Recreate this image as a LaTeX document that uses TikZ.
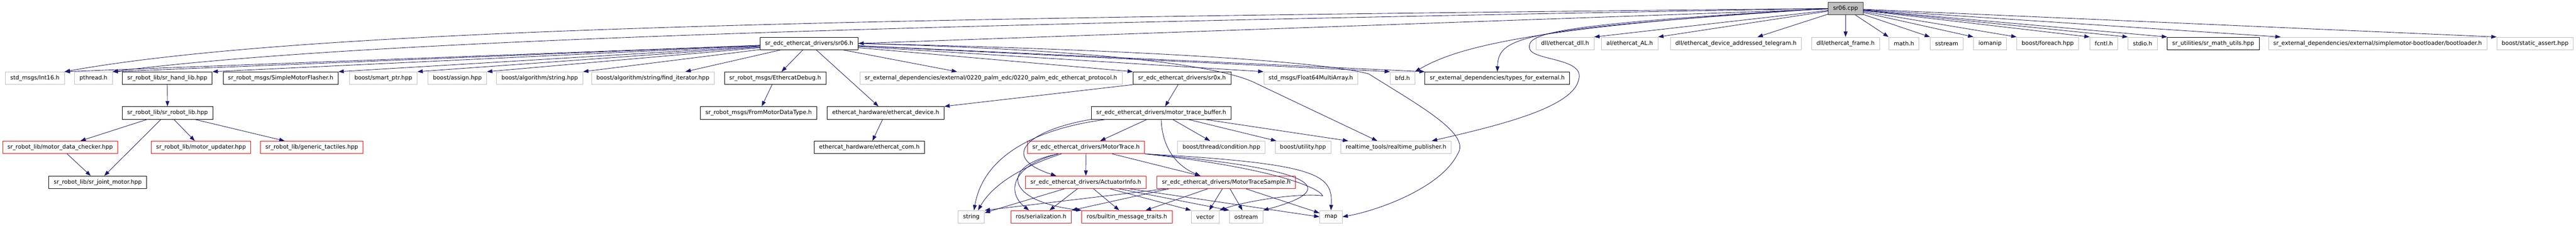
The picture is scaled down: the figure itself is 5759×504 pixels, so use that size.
\documentclass[tikz,border=0pt]{standalone}
\usepackage{fontspec}
\setmainfont{DejaVu Sans}
\usetikzlibrary{arrows.meta}
\definecolor{edgeblue}{HTML}{191970}
\definecolor{greyline}{HTML}{BFBFBF}

\begin{document}
\begin{tikzpicture}[x=1pt,y=-1pt,
  hfile/.style={draw=black,fill=white,line width=1pt,minimum height=28pt,inner xsep=11pt,inner ysep=0pt,font=\fontsize{12.8pt}{15pt}\selectfont},
  sysfile/.style={hfile,draw=greyline},
  redfile/.style={hfile,draw=red},
  rootfile/.style={hfile,fill=greyline,draw=black!80},
  incl/.style={draw=edgeblue,line width=1pt,-{Triangle[length=12pt,width=8.5pt]}}]
\useasboundingbox (0,0) rectangle (5759,504);

\node[rootfile] (cpp) at (4126,19) {sr06.cpp};

\node[hfile] (hdr) at (1809,97) {sr\_edc\_ethercat\_drivers/sr06.h};
\node[sysfile] (dll) at (3499,97) {dll/ethercat\_dll.h};
\node[sysfile] (al) at (3643.5,97) {al/ethercat\_AL.h};
\node[sysfile] (telegram) at (3881,97) {dll/ethercat\_device\_addressed\_telegram.h};
\node[sysfile] (frame) at (4126,97) {dll/ethercat\_frame.h};
\node[sysfile] (math) at (4256.5,97) {math.h};
\node[sysfile] (sstream) at (4352,97) {sstream};
\node[sysfile] (iomanip) at (4449,97) {iomanip};
\node[sysfile] (foreach) at (4578,97) {boost/foreach.hpp};
\node[sysfile] (fcntl) at (4703.5,97) {fcntl.h};
\node[sysfile] (stdio) at (4790,97) {stdio.h};
\node[hfile] (mathutils) at (4948,97) {sr\_utilities/sr\_math\_utils.hpp};
\node[sysfile] (bootloader) at (5315.5,97) {sr\_external\_dependencies/external/simplemotor-bootloader/bootloader.h};
\node[sysfile] (staticassert) at (5667.5,97) {boost/static\_assert.hpp};

\node[sysfile] (int16) at (78,174.5) {std\_msgs/Int16.h};
\node[sysfile] (pthread) at (209,174.5) {pthread.h};
\node[hfile] (handlib) at (374,174.5) {sr\_robot\_lib/sr\_hand\_lib.hpp};
\node[hfile] (flasher) at (627.5,174.5) {sr\_robot\_msgs/SimpleMotorFlasher.h};
\node[sysfile] (smartptr) at (857,174.5) {boost/smart\_ptr.hpp};
\node[sysfile] (assign) at (1022.5,174.5) {boost/assign.hpp};
\node[sysfile] (algstring) at (1206.5,174.5) {boost/algorithm/string.hpp};
\node[sysfile] (finditer) at (1459.5,174.5) {boost/algorithm/string/find\_iterator.hpp};
\node[hfile] (ecdebug) at (1733,174.5) {sr\_robot\_msgs/EthercatDebug.h};
\node[sysfile] (palm) at (2215.5,174.5) {sr\_external\_dependencies/external/0220\_palm\_edc/0220\_palm\_edc\_ethercat\_protocol.h};
\node[hfile] (srox) at (2642.5,174.5) {sr\_edc\_ethercat\_drivers/sr0x.h};
\node[sysfile] (float64) at (2930.5,174.5) {std\_msgs/Float64MultiArray.h};
\node[sysfile] (bfd) at (3135.5,174.5) {bfd.h};
\node[hfile] (types) at (3347.5,174.5) {sr\_external\_dependencies/types\_for\_external.h};

\node[hfile] (robotlib) at (374.5,252) {sr\_robot\_lib/sr\_robot\_lib.hpp};
\node[hfile] (frommotor) at (1696,252) {sr\_robot\_msgs/FromMotorDataType.h};
\node[hfile] (ecdevice) at (1980,252) {ethercat\_hardware/ethercat\_device.h};
\node[hfile] (tracebuf) at (2596,252) {sr\_edc\_ethercat\_drivers/motor\_trace\_buffer.h};

\node[redfile] (checker) at (134.5,329) {sr\_robot\_lib/motor\_data\_checker.hpp};
\node[redfile] (updater) at (449.5,329) {sr\_robot\_lib/motor\_updater.hpp};
\node[redfile] (tactiles) at (697,329) {sr\_robot\_lib/generic\_tactiles.hpp};
\node[hfile] (eccom) at (1943.5,329) {ethercat\_hardware/ethercat\_com.h};
\node[redfile] (motortrace) at (2428,329) {sr\_edc\_ethercat\_drivers/MotorTrace.h};
\node[sysfile] (condition) at (2730.5,329) {boost/thread/condition.hpp};
\node[sysfile] (utility) at (2913,329) {boost/utility.hpp};
\node[sysfile] (publisher) at (3121,329) {realtime\_tools/realtime\_publisher.h};

\node[hfile] (jointmotor) at (218.5,407) {sr\_robot\_lib/sr\_joint\_motor.hpp};
\node[redfile] (actinfo) at (2427.5,407) {sr\_edc\_ethercat\_drivers/ActuatorInfo.h};
\node[redfile] (tracesample) at (2741.5,407) {sr\_edc\_ethercat\_drivers/MotorTraceSample.h};

\node[sysfile] (string) at (2171.5,484) {string};
\node[redfile] (serial) at (2327.5,484) {ros/serialization.h};
\node[redfile] (builtin) at (2519.5,484) {ros/builtin\_message\_traits.h};
\node[sysfile] (vector) at (2694.5,484) {vector};
\node[sysfile] (ostream) at (2786,484) {ostream};
\node[sysfile] (map) at (2975.5,484) {map};

\draw[incl] (cpp.west) .. controls (2000,40) and (700,60) .. (int16.north east);
\draw[incl] (cpp.west) .. controls (2000,55) and (800,90) .. (pthread.north east);
\draw[incl] (cpp) -- (hdr.east);
\draw[incl] (cpp.west) .. controls (3400,60) and (3250,110) .. (bfd.north east);
\draw[incl] (cpp.west) .. controls (3400,65) and (3350,80) .. (types.north);
\draw[incl] (cpp.west) .. controls (3460,55) and (3410,75) .. (3420,110) .. controls (3430,135) and (3540,130) .. (3530,175) .. controls (3520,240) and (3350,280) .. ([xshift=-44pt]publisher.north east);
\draw[incl] (cpp) -- (dll.north east);
\draw[incl] (cpp) -- (al.north east);
\draw[incl] (cpp) -- ([xshift=48pt]telegram.north);
\draw[incl] (cpp) -- (frame);
\draw[incl] (cpp) -- (math.north west);
\draw[incl] (cpp) -- (sstream.north west);
\draw[incl] (cpp) -- (iomanip.north west);
\draw[incl] (cpp) -- (foreach.north west);
\draw[incl] (cpp) -- (fcntl.north west);
\draw[incl] (cpp) -- (stdio.north west);
\draw[incl] (cpp) -- (mathutils.north west);
\draw[incl] (cpp) -- ([xshift=28pt]bootloader.north west);
\draw[incl] (cpp) -- (staticassert.north west);

\draw[incl] (hdr) -- (int16.north east);
\draw[incl] (hdr) -- (pthread.north east);
\draw[incl] (hdr) -- (handlib.north east);
\draw[incl] (hdr) -- (flasher.north east);
\draw[incl] (hdr) -- (smartptr.north east);
\draw[incl] (hdr) -- (assign.north east);
\draw[incl] (hdr) -- (algstring.north east);
\draw[incl] (hdr) -- ([xshift=-65pt]finditer.north east);
\draw[incl] (hdr) -- (ecdebug);
\draw[incl] (hdr) -- (ecdevice);
\draw[incl] (hdr) -- (palm);
\draw[incl] (hdr) -- (srox.north west);
\draw[incl] (hdr) -- (float64.north west);
\draw[incl] (hdr) -- (bfd.north west);
\draw[incl] (hdr) -- (types.north west);
\draw[incl] (hdr.east) .. controls (2400,110) and (2720,140) .. (2810,187) -- ([xshift=82pt]publisher.north west);
\draw[incl] (hdr.east) .. controls (2500,110) and (2950,135) .. (3060,165) .. controls (3180,240) and (3290,300) .. (3258,345) .. controls (3220,420) and (3080,470) .. (map.east);

\draw[incl] (handlib) -- (robotlib);
\draw[incl] (robotlib) -- (checker);
\draw[incl] (robotlib) -- (jointmotor);
\draw[incl] (robotlib) -- (updater);
\draw[incl] (robotlib) -- (tactiles);
\draw[incl] (checker) -- (jointmotor);
\draw[incl] (ecdebug) -- (frommotor);
\draw[incl] (ecdevice) -- (eccom);
\draw[incl] (srox.south west) -- (ecdevice.north east);
\draw[incl] (srox) -- (tracebuf);

\draw[incl] (tracebuf) -- (motortrace);
\draw[incl] ([xshift=34pt]tracebuf.south west) .. controls (2330,285) and (2200,340) .. ([xshift=6pt]string.north);
\draw[incl] (tracebuf.south west) .. controls (2300,290) and (2230,350) .. ([xshift=69pt]actinfo.north west);
\draw[incl] (tracebuf) -- (condition);
\draw[incl] (tracebuf) -- (utility);
\draw[incl] (tracebuf) -- ([xshift=17pt]publisher.north west);
\draw[incl] (tracebuf.south) .. controls (2598,330) and (2630,370) .. ([xshift=-58pt]tracesample.north);

\draw[incl] (motortrace) -- (actinfo);
\draw[incl] (motortrace) -- ([xshift=-58pt]tracesample.north);
\draw[incl] ([xshift=-55pt]motortrace.south) .. controls (2290,370) and (2220,410) .. ([xshift=15pt]string.north);
\draw[incl] ([xshift=-62pt]motortrace.south) .. controls (2260,370) and (2250,430) .. ([xshift=-27pt]serial.north);
\draw[incl] ([xshift=-62pt]motortrace.south) .. controls (2230,370) and (2250,450) .. (builtin.north west);
\draw[incl] (motortrace.south east) .. controls (2850,375) and (2950,420) .. (2957,437) .. controls (2900,430) and (2780,450) .. (vector.north east);
\draw[incl] (motortrace.south east) .. controls (2930,375) and (3010,420) .. (ostream.north east);
\draw[incl] (motortrace.south east) .. controls (2950,365) and (2980,390) .. (map.north);

\draw[incl] (actinfo) -- (string);
\draw[incl] (actinfo) -- (serial);
\draw[incl] (actinfo) -- (builtin);
\draw[incl] (actinfo) -- (vector.north west);
\draw[incl] (actinfo) -- (ostream.north west);
\draw[incl] (actinfo) -- (map.west);

\draw[incl] ([xshift=20pt]tracesample.south west) -- (string.north east);
\draw[incl] ([xshift=27pt]tracesample.south west) -- (serial.north east);
\draw[incl] (tracesample) -- (builtin);
\draw[incl] (tracesample) -- (vector);
\draw[incl] (tracesample) -- (ostream);
\draw[incl] (tracesample) -- (map);

\end{tikzpicture}
\end{document}
